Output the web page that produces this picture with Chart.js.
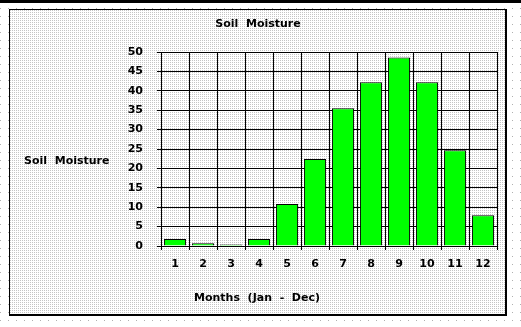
<!DOCTYPE html>
<html>
<head>
<meta charset="utf-8">
<script src="https://cdn.jsdelivr.net/npm/chart.js@4.4.0/dist/chart.umd.min.js"></script>
<style>
  html, body { margin: 0; padding: 0; background: #ffffff; }
  #wrap { width: 521px; height: 327px; position: relative; }
</style>
</head>
<body>
<div id="wrap"><canvas id="c" width="521" height="327"></canvas></div>
<script>
const chartTitle = "Soil  Moisture";
const yAxisTitle = "Soil  Moisture";
const xAxisTitle = "Months  (Jan  -  Dec)";
const months = ["1", "2", "3", "4", "5", "6", "7", "8", "9", "10", "11", "12"];
const moisture = [1.8, 0.7, 0.4, 1.8, 10.8, 22.4, 35.5, 42.2, 48.6, 42.2, 24.7, 7.9];
const yTicks = [0, 5, 10, 15, 20, 25, 30, 35, 40, 45, 50];

const FONT = "'DejaVu Sans', sans-serif";

function makePattern(ctx, size, color) {
  const t = document.createElement('canvas');
  t.width = size; t.height = size;
  const g = t.getContext('2d');
  g.fillStyle = '#ffffff';
  g.fillRect(0, 0, size, size);
  g.fillStyle = color;
  g.fillRect(0, 0, 1, 1);
  return ctx.createPattern(t, 'repeat');
}

const decor = {
  id: 'decor',
  beforeDraw(chart) {
    const ctx = chart.ctx;
    ctx.save();
    ctx.fillStyle = makePattern(ctx, 8, '#b0b0b0');
    ctx.fillRect(0, 0, chart.width, chart.height);
    ctx.fillStyle = '#000000';
    ctx.fillRect(0, 0, chart.width, 3);
    ctx.fillStyle = makePattern(ctx, 2, '#c4c4c4');
    ctx.fillRect(9, 9, 498, 306);
    ctx.restore();
  },
  afterDraw(chart) {
    const ctx = chart.ctx;
    ctx.save();
    ctx.fillStyle = '#000000';
    ctx.fillRect(9, 9, 497, 1);
    ctx.fillRect(9, 9, 1, 306);
    ctx.fillRect(505, 9, 2, 307);
    ctx.fillRect(9, 314, 498, 2);
    ctx.font = "bold 11px " + FONT;
    ctx.textBaseline = 'middle';
    ctx.textAlign = 'center';
    ctx.fillText(chartTitle, 258, 24);
    ctx.fillText(xAxisTitle, 257, 298);
    ctx.textAlign = 'left';
    ctx.fillText(yAxisTitle, 24, 161);
    ctx.restore();
  }
};

new Chart(document.getElementById('c'), {
  type: 'bar',
  data: {
    labels: months,
    datasets: [{
      data: moisture,
      backgroundColor: '#00ff00',
      borderColor: '#000000',
      borderWidth: 1,
      barPercentage: 0.79,
      categoryPercentage: 1.0
    }]
  },
  options: {
    responsive: false,
    animation: false,
    devicePixelRatio: 1,
    layout: { padding: { top: 52, right: 24, left: 0, bottom: 0 } },
    plugins: { legend: { display: false }, tooltip: { enabled: false }, title: { display: false } },
    scales: {
      x: {
        grid: { color: '#000000', lineWidth: 1, tickLength: 4, offset: true, drawOnChartArea: true },
        border: { color: '#000000', width: 1 },
        ticks: { color: '#000000', font: { family: FONT, size: 11, weight: 'bold' }, padding: 8, maxRotation: 0 },
        afterFit(scale) { scale.height = 81; }
      },
      y: {
        min: 0, max: 50,
        grid: { color: '#000000', lineWidth: 1, tickLength: 4 },
        border: { color: '#000000', width: 1 },
        afterBuildTicks(scale) { scale.ticks = yTicks.map(v => ({ value: v })); },
        ticks: { color: '#000000', font: { family: FONT, size: 11, weight: 'bold' }, padding: 14 },
        afterFit(scale) { scale.width = 161; }
      }
    }
  },
  plugins: [decor]
});
</script>
</body>
</html>
